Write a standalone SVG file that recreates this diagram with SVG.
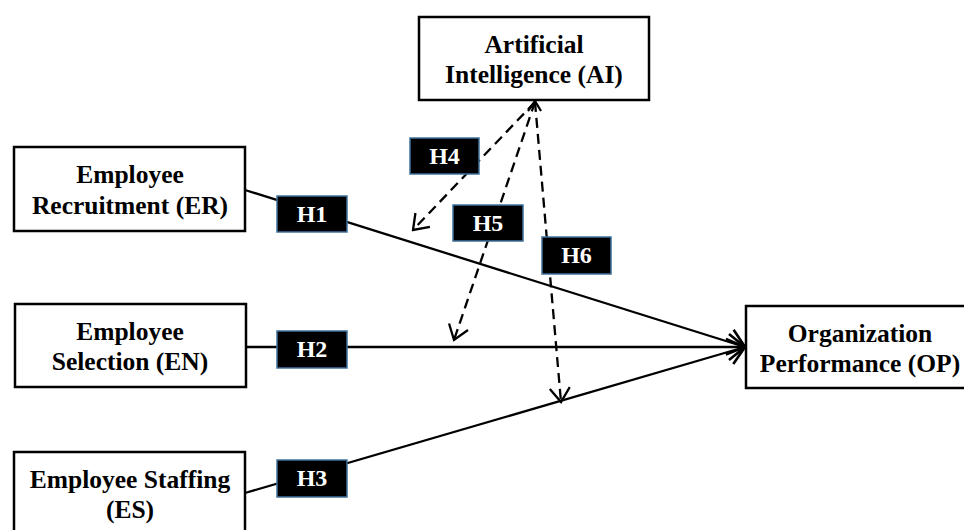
<svg xmlns="http://www.w3.org/2000/svg" width="964" height="530" viewBox="0 0 964 530">
<defs>
<style>
.box{fill:#fff;stroke:#000;stroke-width:2.5}
.bt{font-family:"Liberation Serif","Times New Roman",serif;font-weight:bold;font-size:25.5px;fill:#000;text-anchor:middle}
.hl{fill:#000;stroke:#41719c;stroke-width:1.5}
.ht{font-family:"Liberation Serif","Times New Roman",serif;font-weight:bold;font-size:24px;fill:#fff;text-anchor:middle}
.sol{fill:none;stroke:#000;stroke-width:2.3}
.dash{fill:none;stroke:#000;stroke-width:2.3;stroke-dasharray:10 6}
</style>
<marker id="arr" viewBox="0 0 20 30" refX="18" refY="15" markerWidth="20" markerHeight="30" markerUnits="userSpaceOnUse" orient="auto">
<path d="M2,2 L18,15 L2,28" fill="none" stroke="#000" stroke-width="2.6"/>
</marker>
<marker id="darr" viewBox="0 0 18 24" refX="16" refY="12" markerWidth="18" markerHeight="24" markerUnits="userSpaceOnUse" orient="auto">
<path d="M2,2 L16,12 L2,22" fill="none" stroke="#000" stroke-width="2.3"/>
</marker>
</defs>
<rect width="964" height="530" fill="#fff"/>
<g id="connectors">
<line class="sol" x1="245" y1="190" x2="745" y2="347" marker-end="url(#arr)"/>
<line class="sol" x1="246" y1="347" x2="745" y2="347" marker-end="url(#arr)"/>
<line class="sol" x1="245" y1="493" x2="745" y2="347" marker-end="url(#arr)"/>
<line class="dash" x1="535" y1="102" x2="413" y2="230" marker-end="url(#darr)"/>
<line class="dash" x1="535" y1="102" x2="454" y2="340" marker-end="url(#darr)"/>
<line class="dash" x1="535" y1="102" x2="561" y2="402" marker-end="url(#darr)"/>
<path d="M528,111 L535,101 L541,111" fill="none" stroke="#000" stroke-width="2.3"/>
</g>
<g id="AI">
<rect class="box" x="419" y="17" width="230" height="83"/>
<text class="bt" x="534" y="53">Artificial</text>
<text class="bt" x="534" y="83">Intelligence (AI)</text>
</g>
<g id="ER">
<rect class="box" x="14" y="147" width="231" height="84"/>
<text class="bt" x="130" y="183">Employee</text>
<text class="bt" x="130" y="214">Recruitment (ER)</text>
</g>
<g id="EN">
<rect class="box" x="15" y="304" width="231" height="83"/>
<text class="bt" x="130" y="340">Employee</text>
<text class="bt" x="130" y="370">Selection (EN)</text>
</g>
<g id="ES">
<rect class="box" x="14" y="452" width="231" height="90"/>
<text class="bt" x="130" y="488">Employee Staffing</text>
<text class="bt" x="130" y="518">(ES)</text>
</g>
<g id="OP">
<rect class="box" x="746" y="306" width="230" height="82"/>
<text class="bt" x="860" y="342">Organization</text>
<text class="bt" x="860" y="372">Performance (OP)</text>
</g>
<g id="H1"><rect class="hl" x="277" y="196" width="70" height="36"/><text class="ht" x="312" y="222">H1</text></g>
<g id="H2"><rect class="hl" x="277" y="331" width="70" height="37"/><text class="ht" x="312" y="357">H2</text></g>
<g id="H3"><rect class="hl" x="277" y="460" width="70" height="37"/><text class="ht" x="312" y="486">H3</text></g>
<g id="H4"><rect class="hl" x="410" y="138" width="69" height="36"/><text class="ht" x="444.5" y="164">H4</text></g>
<g id="H5"><rect class="hl" x="453" y="205" width="70" height="36"/><text class="ht" x="488" y="231">H5</text></g>
<g id="H6"><rect class="hl" x="542" y="237" width="69" height="37"/><text class="ht" x="576.5" y="263">H6</text></g>
</svg>
